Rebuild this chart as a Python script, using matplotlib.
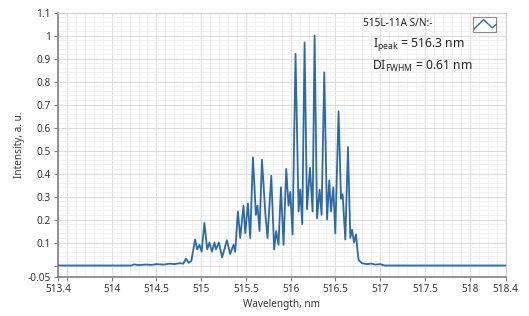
import matplotlib
matplotlib.use("Agg")
import matplotlib.pyplot as plt
from matplotlib.patches import Rectangle
import numpy as np

plt.rcParams['font.family'] = ['Noto Sans', 'DejaVu Sans']

# spectrum (peaks / valleys)
wavelength = [513.4, 514.22, 514.25, 514.30, 514.38, 514.45, 514.50, 514.58, 514.65,
              514.70, 514.76, 514.80, 514.83, 514.86, 514.89,
              514.932, 514.955, 514.981, 515.005, 515.036, 515.067, 515.092, 515.12,
              515.148, 515.165, 515.198, 515.234, 515.287, 515.324, 515.361, 515.380,
              515.410, 515.436, 515.473, 515.492, 515.522, 515.548, 515.578, 515.611,
              515.629, 515.652, 515.679, 515.715, 515.741, 515.783, 515.815, 515.838,
              515.864, 515.891, 515.920, 515.950, 515.976, 515.995, 516.021, 516.054,
              516.088, 516.107, 516.129, 516.155, 516.182, 516.215, 516.245, 516.267,
              516.294, 516.323, 516.345, 516.375, 516.406, 516.431, 516.450, 516.476,
              516.498, 516.535, 516.562, 516.580, 516.610, 516.640, 516.666, 516.685,
              516.708, 516.730, 516.745, 516.759, 516.797, 516.85, 516.90, 516.95,
              517.00, 517.05, 518.4]
intensity = [0.0, 0.0, 0.005, 0.002, 0.004, 0.003, 0.006, 0.004, 0.008,
             0.006, 0.010, 0.008, 0.030, 0.012, 0.020,
             0.113, 0.07, 0.09, 0.06, 0.185, 0.07, 0.10, 0.06,
             0.10, 0.07, 0.10, 0.035, 0.11, 0.05, 0.09, 0.06,
             0.235, 0.12, 0.26, 0.14, 0.27, 0.12, 0.47, 0.22,
             0.26, 0.15, 0.46, 0.235, 0.12, 0.39, 0.07, 0.15,
             0.09, 0.34, 0.09, 0.42, 0.26, 0.32, 0.135, 0.92,
             0.235, 0.33, 0.18, 0.97, 0.245, 0.425, 0.235, 1.0,
             0.205, 0.33, 0.22, 0.84, 0.20, 0.37, 0.235, 0.34,
             0.14, 0.67, 0.29, 0.31, 0.113, 0.515, 0.12, 0.155,
             0.10, 0.135, 0.07, 0.023, 0.010, 0.006, 0.008, 0.004,
             0.006, 0.0, 0.0]

x_ticks = [513.4, 513.5, 514, 514.5, 515, 515.5, 516, 516.5, 517, 517.5, 518, 518.4]
x_labels = ['513.4', '', '514', '514.5', '515', '515.5', '516', '516.5', '517', '517.5', '518', '518.4']
y_ticks = [-0.05, 0, 0.1, 0.2, 0.3, 0.4, 0.5, 0.6, 0.7, 0.8, 0.9, 1.0, 1.1]
y_labels = ['-0.05', '', '0.1', '0.2', '0.3', '0.4', '0.5', '0.6', '0.7', '0.8', '0.9', '1', '1.1']

line_col = '#2b6aa8'

fig = plt.figure(figsize=(5.29, 3.16), dpi=100)
ax = fig.add_axes([0.1096, 0.1234, 0.846, 0.837])

ax.plot(wavelength, intensity, color=line_col, lw=1.3, zorder=3,
        solid_joinstyle='round', solid_capstyle='round')

ax.set_xlim(513.4, 518.4)
ax.set_ylim(-0.05, 1.1)
ax.set_xticks(x_ticks)
ax.set_xticklabels(x_labels)
ax.set_yticks(y_ticks)
ax.set_yticklabels(y_labels)
ax.set_xticks(np.arange(513.4, 518.41, 0.1), minor=True)
ax.set_yticks(np.arange(0, 1.101, 0.02), minor=True)

ax.grid(True, which='major', color='#dcdcdc', lw=0.8, zorder=0)
ax.grid(True, which='minor', color='#efefef', lw=0.6, zorder=0)
ax.set_axisbelow(True)

ax.tick_params(which='major', length=3, width=0.8, color='#808080',
               labelsize=7.2, labelcolor='#333333', pad=2)
ax.tick_params(which='minor', length=0)

for s in ['left', 'bottom']:
    ax.spines[s].set_color('#808080')
    ax.spines[s].set_linewidth(1.2)
for s in ['top', 'right']:
    ax.spines[s].set_color('#cfcfcf')
    ax.spines[s].set_linewidth(0.8)

ax.set_xlabel('Wavelength, nm', fontsize=7.2, color='#333333', labelpad=3)
ax.set_ylabel('Intensity, a. u.', fontsize=7.2, color='#333333', labelpad=2)

# legend-like annotations
fig.text(0.752, 0.925, '515L-11A S/N:-', fontsize=7.2, color='#222222', va='center', ha='center')
fig.text(0.706, 0.86, r'I$_{\mathregular{peak}}$ = 516.3 nm', fontsize=8.8, color='#222222', va='center')
fig.text(0.703, 0.79, r'DI$_{\mathregular{FWHM}}$ = 0.61 nm', fontsize=8.8, color='#222222', va='center')

# small plot icon box
ix0, iy0, iw, ih = 473 / 529, 1 - 32 / 316, 23 / 529, 15 / 316
fig.patches.append(Rectangle((ix0, iy0), iw, ih, transform=fig.transFigure,
                             facecolor='white', edgecolor='#8a8a8a', lw=0.8, zorder=5))
icon_x = [0.06, 0.46, 0.83, 1.0]
icon_y = [0.22, 0.83, 0.28, 0.5]
fig.lines.append(plt.Line2D([ix0 + iw * v for v in icon_x], [iy0 + ih * v for v in icon_y],
                            transform=fig.transFigure, color=line_col, lw=1.0, zorder=6))

fig.savefig('out.png', dpi=100)
